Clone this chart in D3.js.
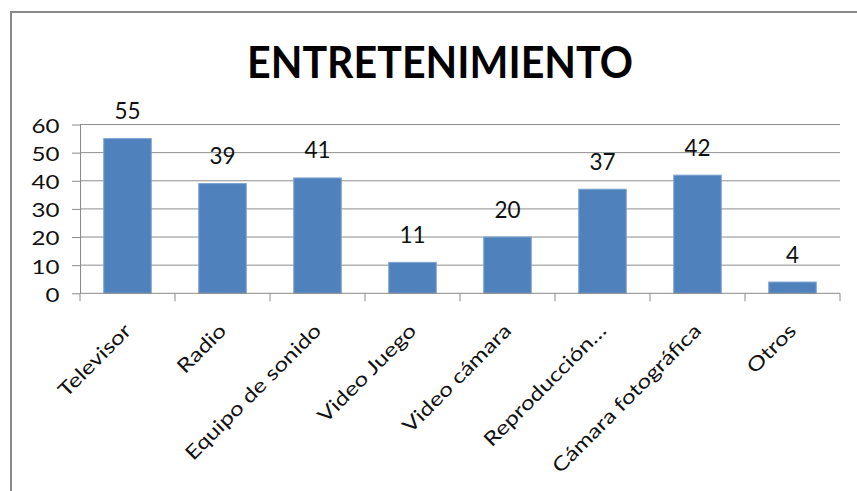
<!DOCTYPE html>
<html>
<head>
<meta charset="utf-8">
<script src="https://cdn.jsdelivr.net/npm/d3@7"></script>
<style>
  html, body { margin: 0; padding: 0; background: #ffffff; }
  svg { display: block; }
  text { font-family: Lato, "Open Sans", "DejaVu Sans", sans-serif; fill: #111; }
</style>
</head>
<body>
<svg id="chart" width="857" height="491"></svg>
<script>
// Chart content
const title = "ENTRETENIMIENTO";
const categories = ["Televisor", "Radio", "Equipo de sonido", "Video Juego", "Video cámara", "Reproducción…", "Cámara fotográfica", "Otros"];
const values = [55, 39, 41, 11, 20, 37, 42, 4];
const yTicks = [0, 10, 20, 30, 40, 50, 60];

const W = 857, H = 491;
const plot = { left: 80, right: 840, top: 124.5, bottom: 293.3 };

const svg = d3.select("#chart");

// Outer chart frame (top and left edges are visible)
svg.append("path")
  .attr("d", `M11,${H} L11,12 L${W},12`)
  .attr("fill", "none")
  .attr("stroke", "#8a8a8a")
  .attr("stroke-width", 2);

const x = d3.scaleBand()
  .domain(categories)
  .range([plot.left, plot.right])
  .paddingInner(0.5)
  .paddingOuter(0.25);

const xBand = d3.scaleBand()
  .domain(categories)
  .range([plot.left, plot.right])
  .padding(0);

const y = d3.scaleLinear()
  .domain([0, 60])
  .range([plot.bottom, plot.top]);

// Title
svg.append("text")
  .attr("x", 440)
  .attr("y", 78)
  .attr("text-anchor", "middle")
  .attr("textLength", 386)
  .attr("lengthAdjust", "spacingAndGlyphs")
  .style("font-size", "43px")
  .style("font-weight", "700")
  .style("fill", "#000")
  .text(title);

// Horizontal gridlines
svg.append("g")
  .selectAll("line")
  .data(yTicks.filter(d => d > 0))
  .join("line")
  .attr("x1", plot.left)
  .attr("x2", plot.right)
  .attr("y1", d => y(d))
  .attr("y2", d => y(d))
  .attr("stroke", "#8e8e8e")
  .attr("stroke-width", 1);

// Y axis
const yAxis = svg.append("g")
  .attr("transform", `translate(${plot.left},0)`)
  .call(d3.axisLeft(y).tickValues(yTicks).tickSize(8).tickSizeOuter(0).tickPadding(0));
yAxis.select(".domain").attr("stroke", "#8a8a8a");
yAxis.selectAll(".tick line").attr("stroke", "#8a8a8a");
yAxis.selectAll(".tick text")
  .attr("x", null)
  .attr("dy", "0.36em")
  .attr("transform", "translate(-20.5,1) scale(1.27,1)")
  .attr("text-anchor", "end")
  .style("font-family", "Lato, 'Open Sans', sans-serif")
  .style("font-size", "19px")
  .style("fill", "#111");

// Bars
svg.append("g")
  .selectAll("rect")
  .data(values)
  .join("rect")
  .attr("x", (d, i) => x(categories[i]))
  .attr("y", d => y(d))
  .attr("width", x.bandwidth())
  .attr("height", d => y(0) - y(d))
  .attr("fill", "#4f81bd")
  .attr("stroke", "#7fa3d1")
  .attr("stroke-width", 1);

// Value labels above bars
svg.append("g")
  .selectAll("text")
  .data(values)
  .join("text")
  .attr("x", (d, i) => x(categories[i]) + x.bandwidth() / 2)
  .attr("y", d => y(d) - 19.5)
  .attr("text-anchor", "middle")
  .style("font-size", "22.5px")
  .text(d => d);

// X axis line with category boundary ticks
const xg = svg.append("g");
xg.append("line")
  .attr("x1", plot.left).attr("x2", plot.right)
  .attr("y1", y(0)).attr("y2", y(0))
  .attr("stroke", "#8a8a8a");
xg.selectAll("line.tick")
  .data(categories.concat([null]))
  .join("line")
  .attr("class", "tick")
  .attr("x1", (d, i) => i < categories.length ? xBand(d) : plot.right)
  .attr("x2", (d, i) => i < categories.length ? xBand(d) : plot.right)
  .attr("y1", y(0))
  .attr("y2", y(0) + 8)
  .attr("stroke", "#8a8a8a");

// Rotated category labels
xg.selectAll("text")
  .data(categories)
  .join("text")
  .attr("text-anchor", "end")
  .attr("transform", d => {
    const cx = xBand(d) + xBand.bandwidth() / 2;
    return `translate(${cx + 5},${332}) rotate(-45) scale(1.24,1)`;
  })
  .style("font-size", "19.5px")
  .text(d => d);
</script>
</body>
</html>
